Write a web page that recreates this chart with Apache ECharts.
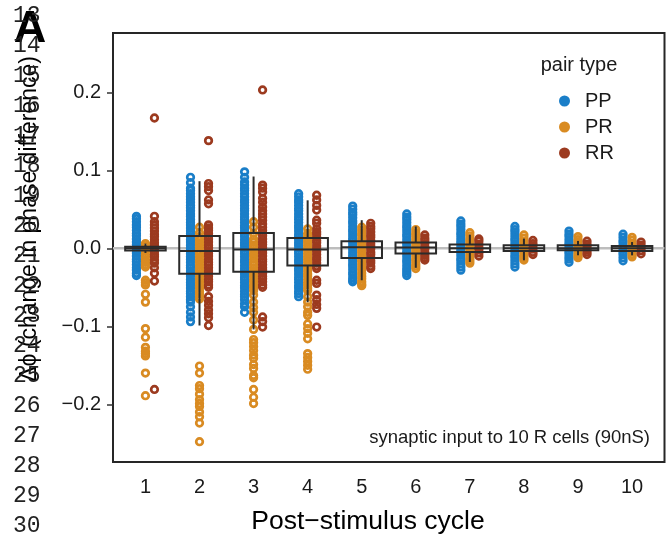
<!DOCTYPE html>
<html>
<head>
<meta charset="utf-8">
<script src="https://cdn.jsdelivr.net/npm/echarts@6/dist/echarts.min.js"></script>
<style>
  html, body { margin: 0; padding: 0; background: #fff; }
  #chart { width: 670px; height: 540px; }
</style>
</head>
<body>
<div id="chart"></div>
<script>
// post-stimulus cycles
var cycles = [1, 2, 3, 4, 5, 6, 7, 8, 9, 10];
var yTicks = [-0.2, -0.1, 0, 0.1, 0.2];
var lineNumbers = [13, 14, 15, 16, 17, 18, 19, 20, 21, 22, 23, 24, 25, 26, 27, 28, 29, 30];

// change in phase difference, one list per cycle
var ppValues = [
  [0.041,0.038,0.034,0.030,0.027,0.023,0.019,0.016,0.012,0.008,0.005,0.001,-0.003,-0.006,-0.010,-0.014,-0.017,-0.021,-0.025,-0.028,-0.032,-0.035],
  [0.091,0.084,0.077,0.074,0.070,0.066,0.063,0.059,0.055,0.052,0.048,0.044,0.041,0.037,0.033,0.030,0.026,0.022,0.019,0.015,0.011,0.008,0.004,0.000,-0.003,-0.007,-0.011,-0.014,-0.018,-0.022,-0.025,-0.029,-0.033,-0.036,-0.040,-0.044,-0.047,-0.051,-0.055,-0.058,-0.062,-0.066,-0.069,-0.075,-0.082,-0.088,-0.094],
  [0.098,0.091,0.085,0.081,0.077,0.074,0.070,0.066,0.062,0.059,0.055,0.051,0.048,0.044,0.040,0.037,0.033,0.029,0.026,0.022,0.018,0.015,0.011,0.007,0.004,0.000,-0.004,-0.007,-0.011,-0.015,-0.018,-0.022,-0.026,-0.029,-0.033,-0.037,-0.040,-0.044,-0.048,-0.051,-0.055,-0.059,-0.062,-0.066,-0.071,-0.075,-0.082],
  [0.070,0.066,0.062,0.059,0.055,0.051,0.048,0.044,0.040,0.037,0.033,0.029,0.026,0.022,0.018,0.015,0.011,0.007,0.004,0.000,-0.004,-0.007,-0.011,-0.015,-0.018,-0.022,-0.026,-0.029,-0.033,-0.037,-0.040,-0.044,-0.048,-0.051,-0.055,-0.058,-0.062],
  [0.054,0.050,0.046,0.043,0.039,0.035,0.032,0.028,0.024,0.021,0.017,0.013,0.010,0.006,0.002,-0.001,-0.005,-0.009,-0.012,-0.016,-0.020,-0.023,-0.027,-0.031,-0.034,-0.038,-0.041,-0.043],
  [0.044,0.040,0.037,0.033,0.029,0.026,0.022,0.018,0.015,0.011,0.007,0.004,0.000,-0.004,-0.007,-0.011,-0.015,-0.018,-0.022,-0.026,-0.029,-0.032,-0.035],
  [0.035,0.031,0.028,0.024,0.020,0.017,0.013,0.009,0.006,0.002,-0.002,-0.005,-0.009,-0.013,-0.016,-0.020,-0.024,-0.028],
  [0.028,0.024,0.021,0.017,0.013,0.010,0.006,0.002,-0.001,-0.005,-0.009,-0.012,-0.016,-0.020,-0.024],
  [0.022,0.018,0.015,0.011,0.007,0.004,0.000,-0.004,-0.007,-0.011,-0.014,-0.018],
  [0.018,0.014,0.010,0.007,0.003,-0.001,-0.005,-0.008,-0.012,-0.016]
];
var prValues = [
  [0.006,0.003,-0.001,-0.004,-0.008,-0.011,-0.015,-0.018,-0.021,-0.024,-0.041,-0.044,-0.047,-0.059,-0.069,-0.103,-0.114,-0.127,-0.132,-0.135,-0.138,-0.160,-0.189],
  [0.027,0.020,0.015,0.011,0.007,0.004,0.000,-0.004,-0.007,-0.011,-0.015,-0.018,-0.022,-0.026,-0.029,-0.033,-0.037,-0.040,-0.044,-0.048,-0.051,-0.055,-0.058,-0.062,-0.065,-0.151,-0.160,-0.176,-0.180,-0.187,-0.194,-0.199,-0.203,-0.210,-0.216,-0.224,-0.248],
  [0.034,0.027,0.019,0.012,0.008,0.004,0.001,-0.003,-0.007,-0.010,-0.014,-0.018,-0.021,-0.025,-0.029,-0.032,-0.036,-0.040,-0.043,-0.047,-0.050,-0.054,-0.060,-0.069,-0.076,-0.082,-0.092,-0.104,-0.117,-0.121,-0.126,-0.131,-0.137,-0.141,-0.149,-0.154,-0.163,-0.166,-0.181,-0.191,-0.199],
  [0.025,0.019,0.015,0.011,0.008,0.004,0.000,-0.003,-0.007,-0.011,-0.014,-0.018,-0.022,-0.025,-0.029,-0.033,-0.036,-0.040,-0.044,-0.047,-0.051,-0.054,-0.062,-0.069,-0.075,-0.082,-0.086,-0.097,-0.103,-0.109,-0.116,-0.135,-0.140,-0.145,-0.150,-0.155],
  [0.027,0.023,0.019,0.016,0.012,0.008,0.005,0.001,-0.003,-0.006,-0.010,-0.014,-0.017,-0.021,-0.025,-0.028,-0.032,-0.036,-0.039,-0.043,-0.046,-0.048],
  [0.024,0.020,0.017,0.013,0.009,0.006,0.002,-0.002,-0.005,-0.009,-0.013,-0.016,-0.020,-0.023,-0.026],
  [0.020,0.016,0.012,0.009,0.005,0.001,-0.002,-0.006,-0.010,-0.013,-0.016,-0.019],
  [0.017,0.013,0.009,0.006,0.002,-0.002,-0.005,-0.009,-0.012,-0.015],
  [0.015,0.011,0.008,0.004,0.000,-0.003,-0.007,-0.010,-0.012],
  [0.014,0.010,0.006,0.003,-0.001,-0.005,-0.008,-0.011]
];
var rrValues = [
  [0.167,0.041,0.034,0.030,0.026,0.022,0.018,0.015,0.011,0.007,0.004,0.000,-0.004,-0.008,-0.011,-0.015,-0.019,-0.025,-0.032,-0.042,-0.181],
  [0.138,0.083,0.079,0.074,0.062,0.057,0.030,0.026,0.023,0.019,0.015,0.012,0.008,0.004,0.001,-0.003,-0.007,-0.010,-0.014,-0.018,-0.021,-0.025,-0.029,-0.032,-0.036,-0.040,-0.043,-0.047,-0.050,-0.062,-0.068,-0.073,-0.079,-0.084,-0.089,-0.099],
  [0.203,0.081,0.077,0.072,0.064,0.059,0.053,0.048,0.044,0.040,0.036,0.031,0.027,0.023,0.019,0.016,0.012,0.008,0.005,0.001,-0.003,-0.006,-0.010,-0.014,-0.017,-0.021,-0.025,-0.028,-0.032,-0.036,-0.039,-0.043,-0.047,-0.050,-0.088,-0.094,-0.101],
  [0.068,0.062,0.055,0.049,0.036,0.032,0.025,0.021,0.018,0.014,0.010,0.007,0.003,-0.001,-0.004,-0.008,-0.012,-0.015,-0.019,-0.023,-0.026,-0.041,-0.045,-0.060,-0.066,-0.072,-0.077,-0.101],
  [0.032,0.028,0.025,0.021,0.017,0.014,0.010,0.006,0.003,-0.001,-0.005,-0.008,-0.012,-0.016,-0.019,-0.023,-0.026],
  [0.017,0.013,0.010,0.006,0.002,-0.001,-0.005,-0.009,-0.012,-0.015],
  [0.012,0.009,0.005,0.001,-0.002,-0.006,-0.010],
  [0.010,0.006,0.003,-0.001,-0.005,-0.008],
  [0.009,0.005,0.002,-0.002,-0.005,-0.008],
  [0.008,0.004,0.001,-0.003,-0.007]
];

// box plot stats per cycle (all pair types together)
var whiskerLow  = [-0.006, -0.099, -0.104, -0.069, -0.041, -0.025, -0.0175, -0.0154, -0.009, -0.009];
var q1          = [-0.003, -0.0325, -0.030, -0.022, -0.0124, -0.0068, -0.0047, -0.0035, -0.0026, -0.0035];
var median      = [0.000, -0.0035, -0.0017, -0.0017, 0.0012, 0.001, 0.000, 0.000, 0.000, 0.000];
var q3          = [0.002, 0.0158, 0.0196, 0.0132, 0.009, 0.0073, 0.0047, 0.0038, 0.0038, 0.003];
var whiskerHigh = [0.006, 0.086, 0.092, 0.0615, 0.036, 0.028, 0.0175, 0.0124, 0.0094, 0.008];

var colors = { PP: '#1a7ec8', PR: '#d98b22', RR: '#9c3a1f' };
var dodge = { PP: -1 / 6, PR: 0, RR: 1 / 6 };
var boxWidth = 0.75;
var font = '"Liberation Sans", Arial, Helvetica, sans-serif';
var ink = '#1a1a1a';

function points(values, offset) {
  var out = [];
  values.forEach(function (list, i) {
    list.forEach(function (v) { out.push([cycles[i] + offset, v]); });
  });
  return out;
}

function scatterSeries(name, values) {
  return {
    name: name,
    type: 'scatter',
    z: 2,
    symbol: 'circle',
    symbolSize: 6.6,
    itemStyle: { color: 'rgba(0,0,0,0)', borderColor: colors[name], borderWidth: 2.7, opacity: 1 },
    data: points(values, dodge[name])
  };
}

var boxData = cycles.map(function (c, i) {
  return [c, whiskerLow[i], q1[i], median[i], q3[i], whiskerHigh[i]];
});

function renderBox(params, api) {
  var x = api.value(0);
  var lo = api.coord([x, api.value(1)]);
  var b = api.coord([x, api.value(2)]);
  var m = api.coord([x, api.value(3)]);
  var t = api.coord([x, api.value(4)]);
  var hi = api.coord([x, api.value(5)]);
  var half = api.size([boxWidth, 0])[0] / 2;
  var st = { stroke: '#2b2b2b', lineWidth: 2, fill: null };
  return {
    type: 'group',
    children: [
      { type: 'line', shape: { x1: t[0], y1: t[1], x2: hi[0], y2: hi[1] }, style: st },
      { type: 'line', shape: { x1: b[0], y1: b[1], x2: lo[0], y2: lo[1] }, style: st },
      { type: 'rect', shape: { x: t[0] - half, y: t[1], width: half * 2, height: b[1] - t[1] }, style: st },
      { type: 'line', shape: { x1: m[0] - half, y1: m[1], x2: m[0] + half, y2: m[1] }, style: st }
    ]
  };
}

var graphics = lineNumbers.map(function (n, i) {
  return {
    type: 'text', x: 13, y: 15.5 + 30 * i, z: 10,
    style: { text: String(n), font: '23px "Liberation Mono", monospace', fill: '#222', verticalAlign: 'middle' }
  };
});
graphics.push(
  { type: 'text', x: 30, y: 30, z: 9,
    style: { text: 'A', font: 'bold 45px ' + font, fill: '#000', align: 'center', verticalAlign: 'middle' } },
  { type: 'text', x: 30, y: 219, rotation: Math.PI / 2, z: 9,
    style: { text: 'Δϕ (change in phase difference)', font: '23px ' + font, fill: '#000', align: 'center', verticalAlign: 'middle' } },
  { type: 'text', x: 368, y: 522, z: 9,
    style: { text: 'Post\u2212stimulus cycle', font: '26.5px ' + font, fill: '#000', align: 'center', verticalAlign: 'middle' } },
  { type: 'text', x: 579, y: 65, z: 9,
    style: { text: 'pair type', font: '20px ' + font, fill: ink, align: 'center', verticalAlign: 'middle' } },
  { type: 'text', x: 650, y: 438, z: 9,
    style: { text: 'synaptic input to 10 R cells (90nS)', font: '18.5px ' + font, fill: ink, align: 'right', verticalAlign: 'middle' } }
);

var chart = echarts.init(document.getElementById('chart'), null, { renderer: 'canvas' });
chart.setOption({
  animation: false,
  backgroundColor: '#fff',
  grid: { left: 113, right: 5.5, top: 33, bottom: 78, show: true, borderColor: '#262626', borderWidth: 2 },
  xAxis: {
    type: 'value', min: 0.4, max: 10.6,
    axisLine: { show: false },
    splitLine: { show: false },
    axisTick: { show: true, length: 5, customValues: cycles, lineStyle: { color: '#333', width: 1.5 } },
    axisLabel: { customValues: cycles, fontSize: 20, fontFamily: font, color: ink, margin: 15 }
  },
  yAxis: {
    type: 'value', min: -0.274, max: 0.276,
    axisLine: { show: false },
    splitLine: { show: false },
    axisTick: { show: true, length: 6, customValues: yTicks, lineStyle: { color: '#333', width: 1.5 } },
    axisLabel: {
      customValues: yTicks, fontSize: 20, fontFamily: font, color: ink, margin: 12,
      formatter: function (v) { return (v < 0 ? '\u2212' : '') + Math.abs(v).toFixed(1); }
    }
  },
  legend: {
    orient: 'vertical', left: 554, top: 86,
    itemWidth: 11, itemHeight: 11, itemGap: 6,
    icon: 'circle',
    textStyle: { fontSize: 20, fontFamily: font, color: ink, padding: [0, 0, 0, 10], lineHeight: 20 },
    data: ['PP', 'PR', 'RR'].map(function (n) {
      return { name: n, itemStyle: { color: colors[n], borderWidth: 0 } };
    })
  },
  graphic: graphics,
  series: [
    {
      type: 'line', z: 1, silent: true, symbol: 'none',
      lineStyle: { color: '#bdbdbd', width: 2.5 },
      data: [[0.4, 0], [10.6, 0]]
    },
    scatterSeries('PP', ppValues),
    scatterSeries('PR', prValues),
    scatterSeries('RR', rrValues),
    {
      type: 'custom', z: 3, silent: true,
      renderItem: renderBox,
      encode: { x: 0, y: [1, 2, 3, 4, 5] },
      data: boxData
    }
  ]
});
</script>
</body>
</html>
